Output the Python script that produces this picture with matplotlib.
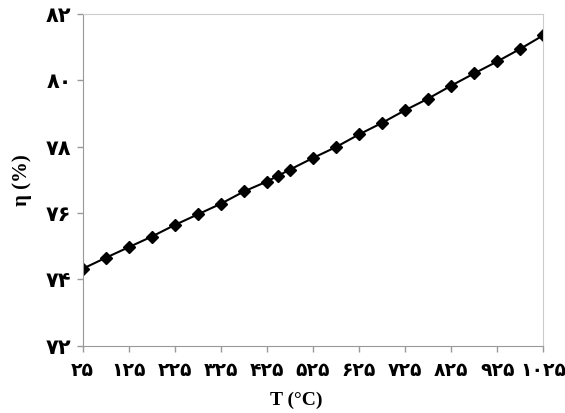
import matplotlib.pyplot as plt

# دما و بازده
temps = [25, 75, 125, 175, 225, 275, 325, 375, 425, 450, 475,
         525, 575, 625, 675, 725, 775, 825, 875, 925, 975, 1025]
eta = [74.32, 74.65, 74.97, 75.29, 75.64, 75.96, 76.28, 76.65, 76.95, 77.13, 77.31,
       77.66, 77.99, 78.37, 78.72, 79.10, 79.45, 79.84, 80.21, 80.57, 80.95, 81.36]
xticks = [25, 125, 225, 325, 425, 525, 625, 725, 825, 925, 1025]
yticks = [72, 74, 76, 78, 80, 82]

fa = str.maketrans('0123456789', '۰۱۲۳۴۵۶۷۸۹')
def fa_num(v):
    return str(v).translate(fa)

fig = plt.figure(figsize=(5.65, 4.13), dpi=100)
ax = fig.add_axes([0.1464, 0.163, 0.8152, 0.803])
ax.plot(temps, eta, 'k-', marker='D', markersize=6.5, linewidth=1.5)

ax.set_xlim(25, 1025)
ax.set_ylim(72, 82)
ax.set_xticks(xticks)
ax.set_yticks(yticks)
ax.set_xticklabels([fa_num(t) for t in xticks], fontsize=13.5, fontweight='bold', family='DejaVu Sans')
ax.set_yticklabels([fa_num(t) for t in yticks], fontsize=15, fontweight='bold', family='DejaVu Sans')
ax.tick_params(direction='out', length=4, width=1, color='#999999', pad=4)
ax.tick_params(axis='x', pad=7)

for s in ['top', 'right']:
    ax.spines[s].set_color('#cccccc')
for s in ['left', 'bottom']:
    ax.spines[s].set_color('#999999')

ax.set_xlabel('T (°C)', fontsize=14, fontweight='bold', family='Liberation Serif')
ax.xaxis.set_label_coords(0.463, -0.14)
ax.set_ylabel('η (%)', fontsize=15, fontweight='bold', family='Liberation Serif', labelpad=10)

plt.savefig('out.png')
